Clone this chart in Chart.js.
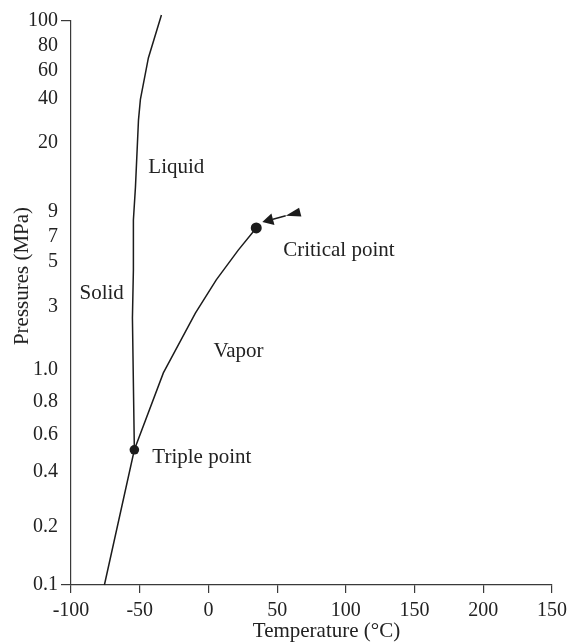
<!DOCTYPE html>
<html lang="en">
<head>
    <meta charset="UTF-8">
    <title>Phase diagram</title>
    <script src="https://cdn.jsdelivr.net/npm/chart.js"></script>
    <style>
        html, body { margin: 0; padding: 0; background: #fff; }
        #wrap { width: 569px; height: 642px; }
    </style>
</head>
<body>
    <div id="wrap"><canvas id="phaseChart"></canvas></div>
    <script>
        // curves (temperature in °C, pressure in MPa)
        const meltingT = [-53.9, -55.3, -54.6, -54.6, -53.1, -50.9, -49.5, -43.7, -34.2];
        const meltingP = [0.51, 2.48, 4.57, 8.3, 12.0, 28.7, 39.8, 69.7, 105.5];
        const vaporT = [-75.7, -53.9, -32.8, -9.5, 5.7, 21.7, 34.8];
        const vaporP = [0.1, 0.51, 0.98, 2.70, 4.08, 5.87, 7.67];

        const pointNames = ['Triple point', 'Critical point'];
        const pointT = [-53.9, 34.8];
        const pointP = [0.51, 7.67];

        const regionNames = ['Solid', 'Liquid', 'Vapor', 'Triple point', 'Critical point'];
        const regionT = [-93.8, -43.7, 3.6, -40.8, 54.4];
        const regionP = [3.5, 15.1, 1.37, 0.471, 5.87];

        // arrow pointing at the critical point: tail -> tip
        const arrowT = [66.8, 39.2];
        const arrowP = [9.0, 8.14];

        const xTickValues = [-100, -50, 0, 50, 100, 150, 200, 250];
        const xTickLabels = ['-100', '-50', '0', '50', '100', '150', '200', '150'];
        const yTickValues = [0.1, 0.2, 0.4, 0.6, 0.8, 1.0, 3, 5, 7, 9, 20, 40, 60, 80, 100];
        const yTickLabels = ['0.1', '0.2', '0.4', '0.6', '0.8', '1.0', '3', '5', '7', '9', '20', '40', '60', '80', '100'];

        // the pressure axis of the figure is not uniform: where each tick sits (0 = bottom, 1 = top)
        const yAxisStops = [0, 0.1028, 0.2004, 0.266, 0.3245, 0.3812, 0.4929, 0.5727, 0.617, 0.6613, 0.7837, 0.8617, 0.9113, 0.9557, 1];

        function pressureToFraction(p) {
            const v = yTickValues, f = yAxisStops, n = v.length;
            let i = 0;
            while (i < n - 2 && p > v[i + 1]) i++;
            const t = Math.log(p / v[i]) / Math.log(v[i + 1] / v[i]);
            return f[i] + t * (f[i + 1] - f[i]);
        }

        function fractionToPressure(fr) {
            const v = yTickValues, f = yAxisStops, n = v.length;
            let i = 0;
            while (i < n - 2 && fr > f[i + 1]) i++;
            const t = (fr - f[i]) / (f[i + 1] - f[i]);
            return v[i] * Math.pow(v[i + 1] / v[i], t);
        }

        class PiecewiseScale extends Chart.LinearScale {
            determineDataLimits() {
                this.min = yTickValues[0];
                this.max = yTickValues[yTickValues.length - 1];
            }
            buildTicks() {
                return yTickValues.map(v => ({ value: v }));
            }
            getPixelForValue(value) {
                return this.getPixelForDecimal(pressureToFraction(value));
            }
            getValueForPixel(pixel) {
                return fractionToPressure(this.getDecimalForPixel(pixel));
            }
        }
        PiecewiseScale.id = 'piecewise';
        PiecewiseScale.defaults = Chart.LinearScale.defaults;
        Chart.register(PiecewiseScale);

        const ink = '#1c1c1c';
        const axisColor = '#3a3a3a';
        const serif = '"Liberation Serif", "Times New Roman", serif';

        const toXY = (xs, ys) => xs.map((x, i) => ({ x: x, y: ys[i] }));

        const annotations = {
            id: 'annotations',
            afterDatasetsDraw(chart) {
                const { ctx, scales: { x, y }, chartArea } = chart;
                ctx.save();

                // arrow
                const x0 = x.getPixelForValue(arrowT[0]), y0 = y.getPixelForValue(arrowP[0]);
                const x1 = x.getPixelForValue(arrowT[1]), y1 = y.getPixelForValue(arrowP[1]);
                const len = Math.hypot(x1 - x0, y1 - y0);
                const dx = (x1 - x0) / len, dy = (y1 - y0) / len;
                const nx = -dy, ny = dx;
                ctx.fillStyle = ink;
                ctx.strokeStyle = ink;
                // head
                const hb = 11, hw = 6;
                ctx.beginPath();
                ctx.moveTo(x1, y1);
                ctx.lineTo(x1 - dx * hb + nx * hw, y1 - dy * hb + ny * hw);
                ctx.lineTo(x1 - dx * hb - nx * hw, y1 - dy * hb - ny * hw);
                ctx.closePath();
                ctx.fill();
                // shaft
                const tl = 15, tw = 4.5;
                ctx.lineWidth = 1.5;
                ctx.beginPath();
                ctx.moveTo(x1 - dx * hb, y1 - dy * hb);
                ctx.lineTo(x0 + dx * tl, y0 + dy * tl);
                ctx.stroke();
                // tail wedge
                ctx.beginPath();
                ctx.moveTo(x0 + dx * tl, y0 + dy * tl);
                ctx.lineTo(x0 + nx * tw, y0 + ny * tw);
                ctx.lineTo(x0 - nx * tw, y0 - ny * tw);
                ctx.closePath();
                ctx.fill();

                // region and point names
                ctx.fillStyle = '#222';
                ctx.font = '21px ' + serif;
                ctx.textAlign = 'left';
                ctx.textBaseline = 'middle';
                regionNames.forEach((name, i) => {
                    ctx.fillText(name, x.getPixelForValue(regionT[i]), y.getPixelForValue(regionP[i]));
                });

                // axis titles
                ctx.textAlign = 'center';
                ctx.fillText('Temperature (°C)', (chartArea.left + chartArea.right) / 2 + 15, chartArea.bottom + 46);
                ctx.translate(chartArea.left - 49, (chartArea.top + chartArea.bottom) / 2 - 27);
                ctx.rotate(-Math.PI / 2);
                ctx.fillText('Pressures (MPa)', 0, 0);
                ctx.restore();
            }
        };

        new Chart(document.getElementById('phaseChart'), {
            type: 'line',
            data: {
                datasets: [
                    {
                        label: 'Solid-liquid',
                        data: toXY(meltingT, meltingP),
                        borderColor: ink,
                        borderWidth: 1.5,
                        pointRadius: 0,
                        tension: 0,
                        clip: false
                    },
                    {
                        label: 'Liquid-vapor',
                        data: toXY(vaporT, vaporP),
                        borderColor: ink,
                        borderWidth: 1.5,
                        pointRadius: 0,
                        tension: 0
                    },
                    {
                        label: 'Points',
                        data: toXY(pointT, pointP),
                        showLine: false,
                        pointRadius: [4.8, 5.5],
                        pointBackgroundColor: ink,
                        pointBorderColor: ink,
                        pointBorderWidth: 0
                    }
                ]
            },
            options: {
                responsive: true,
                maintainAspectRatio: false,
                animation: false,
                events: [],
                layout: { padding: { left: 0, right: 17, top: 21, bottom: 0 } },
                plugins: {
                    legend: { display: false },
                    tooltip: { enabled: false }
                },
                scales: {
                    x: {
                        type: 'linear',
                        min: -100,
                        max: 250,
                        afterBuildTicks: scale => {
                            scale.ticks = xTickValues.map(v => ({ value: v }));
                        },
                        afterFit: scale => {
                            scale.height = 57;
                            scale.paddingRight = 17;
                        },
                        ticks: {
                            callback: (v, i) => xTickLabels[i],
                            color: '#222',
                            font: { family: serif, size: 20 },
                            padding: 6,
                            maxRotation: 0,
                            autoSkip: false
                        },
                        grid: {
                            drawOnChartArea: false,
                            tickLength: 8,
                            color: axisColor,
                            lineWidth: 1.2
                        },
                        border: { color: axisColor, width: 1.2 }
                    },
                    y: {
                        type: 'piecewise',
                        afterFit: scale => { scale.width = 71; },
                        ticks: {
                            callback: (v, i) => yTickLabels[i],
                            color: '#222',
                            font: { family: serif, size: 20 },
                            padding: 3,
                            autoSkip: false
                        },
                        grid: {
                            drawOnChartArea: false,
                            tickLength: 10,
                            lineWidth: 1.2,
                            color: c => (c.tick && (c.tick.value === 0.1 || c.tick.value === 100)) ? axisColor : 'rgba(0,0,0,0)'
                        },
                        border: { color: axisColor, width: 1.2 }
                    }
                }
            },
            plugins: [annotations]
        });
    </script>
</body>
</html>
